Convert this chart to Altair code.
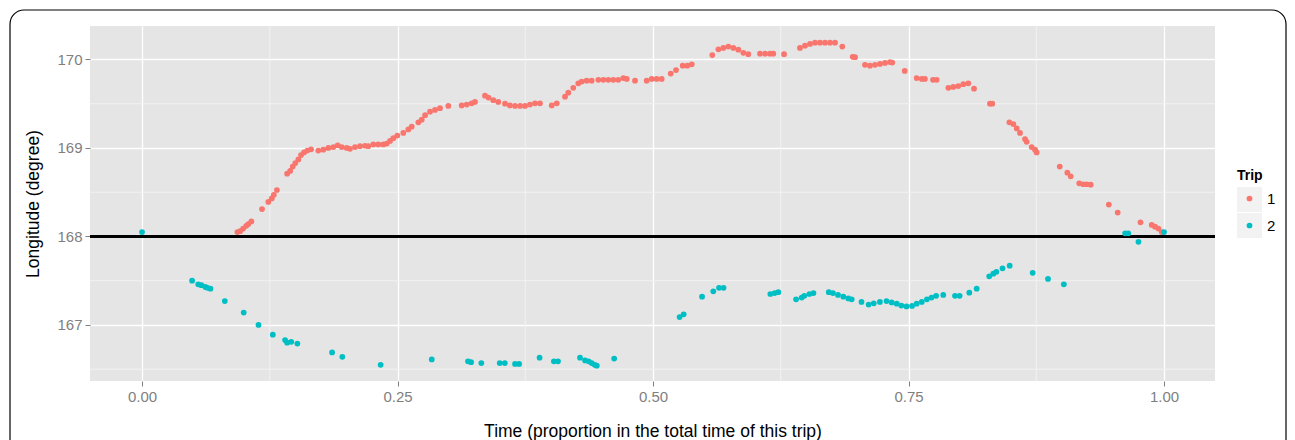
import altair as alt
import pandas as pd

# ---- data ----
trip1_x = [0.0933, 0.096, 0.099, 0.102, 0.104, 0.107, 0.1174, 0.1236, 0.127, 0.129, 0.132,
           0.142, 0.145, 0.1475, 0.150, 0.153, 0.1556, 0.1585, 0.1617, 0.1654, 0.1725, 0.1774,
           0.1823, 0.1872, 0.1915, 0.1954, 0.2003, 0.2035, 0.2084, 0.2133, 0.2182, 0.2214,
           0.2263, 0.2312, 0.2361, 0.2394, 0.2427, 0.2459, 0.2498, 0.2557, 0.2606, 0.2639,
           0.2704, 0.2737, 0.277, 0.2818, 0.2867, 0.2916, 0.2997, 0.3128, 0.3177, 0.3226,
           0.3258, 0.3356, 0.339, 0.3437, 0.3486, 0.3552, 0.360, 0.365, 0.370, 0.3748, 0.3796,
           0.3845, 0.3894, 0.4009, 0.4058, 0.4139, 0.4171, 0.422, 0.4269, 0.4302, 0.4351,
           0.440, 0.4465, 0.4514, 0.4563, 0.4612, 0.466, 0.471, 0.4743, 0.4824, 0.4938, 0.4987,
           0.5036, 0.5085, 0.5173, 0.5225, 0.529, 0.5336, 0.5379, 0.558, 0.564, 0.5688, 0.5737,
           0.5786, 0.5835, 0.5884, 0.5932, 0.6047, 0.6096, 0.6145, 0.6177, 0.6282, 0.6438,
           0.6487, 0.6536, 0.6585, 0.6634, 0.6683, 0.6732, 0.6781, 0.6852, 0.6954, 0.6977,
           0.7074, 0.7123, 0.7172, 0.7221, 0.727, 0.7319, 0.7341, 0.7463, 0.758, 0.763, 0.766,
           0.774, 0.7776, 0.789, 0.7938, 0.7987, 0.8036, 0.8085, 0.8141, 0.8297, 0.832, 0.8487,
           0.8526, 0.8559, 0.8591, 0.864, 0.8656, 0.8705, 0.8738, 0.8754, 0.898, 0.9054, 0.9087,
           0.9171, 0.921, 0.9244, 0.9283, 0.946, 0.9547, 0.977, 0.988, 0.9912, 0.9945, 0.9978]
trip1_y = [168.05, 168.06, 168.09, 168.12, 168.14, 168.17, 168.31, 168.39, 168.43, 168.47, 168.525,
           168.71, 168.74, 168.79, 168.83, 168.87, 168.92, 168.95, 168.97, 168.985, 168.97, 168.98,
           169.0, 169.01, 169.03, 169.01, 169.0, 168.99, 169.01, 169.02, 169.025, 169.02,
           169.04, 169.04, 169.04, 169.05, 169.08, 169.11, 169.14, 169.17, 169.21, 169.24,
           169.29, 169.32, 169.37, 169.41, 169.43, 169.45, 169.475, 169.48, 169.49, 169.505,
           169.52, 169.59, 169.57, 169.54, 169.52, 169.50, 169.48, 169.475, 169.475, 169.475, 169.49,
           169.505, 169.505, 169.48, 169.505, 169.58, 169.625, 169.68, 169.73, 169.75, 169.76,
           169.76, 169.77, 169.77, 169.77, 169.77, 169.77, 169.79, 169.78, 169.76, 169.76, 169.78,
           169.78, 169.78, 169.84, 169.88, 169.93, 169.93, 169.945, 170.05, 170.115, 170.13, 170.145,
           170.13, 170.11, 170.075, 170.06, 170.065, 170.065, 170.065, 170.065, 170.06, 170.13,
           170.155, 170.175, 170.19, 170.19, 170.19, 170.19, 170.19, 170.145, 170.03, 170.025,
           169.94, 169.93, 169.94, 169.95, 169.96, 169.97, 169.965, 169.87, 169.79, 169.78, 169.78,
           169.77, 169.77, 169.68, 169.69, 169.70, 169.72, 169.73, 169.67, 169.50, 169.50, 169.29,
           169.27, 169.22, 169.17, 169.10, 169.07, 169.01, 168.98, 168.95, 168.79, 168.72, 168.68,
           168.60, 168.59, 168.59, 168.585, 168.36, 168.27, 168.16, 168.13, 168.11, 168.09, 168.05]

trip2_x = [0.0, 0.049, 0.055, 0.058, 0.062, 0.064, 0.067, 0.081, 0.0995, 0.114, 0.128, 0.140,
           0.142, 0.146, 0.152, 0.186, 0.196, 0.2335, 0.2835, 0.319, 0.322, 0.332, 0.350, 0.355,
           0.365, 0.369, 0.389, 0.403, 0.407, 0.4286, 0.4335, 0.437, 0.440, 0.443, 0.445, 0.462,
           0.526, 0.530, 0.548, 0.559, 0.5646, 0.569, 0.6148, 0.619, 0.6226, 0.640, 0.6455, 0.648,
           0.653, 0.657, 0.672, 0.676, 0.681, 0.6862, 0.6911, 0.6944, 0.704, 0.711, 0.716, 0.722,
           0.7285, 0.7335, 0.7385, 0.743, 0.748, 0.7535, 0.758, 0.763, 0.768, 0.7725, 0.777, 0.784,
           0.7955, 0.800, 0.8095, 0.8167, 0.829, 0.833, 0.836, 0.842, 0.849, 0.8715, 0.8865, 0.902,
           0.962, 0.965, 0.975, 1.0]
trip2_y = [168.05, 167.50, 167.46, 167.45, 167.43, 167.42, 167.41, 167.27, 167.14, 167.0, 166.89, 166.83,
           166.80, 166.81, 166.79, 166.69, 166.64, 166.55, 166.61, 166.59, 166.58, 166.57, 166.57, 166.57,
           166.56, 166.56, 166.63, 166.59, 166.59, 166.63, 166.60, 166.59, 166.57, 166.55, 166.54, 166.62,
           167.09, 167.12, 167.32, 167.38, 167.42, 167.42, 167.35, 167.36, 167.37, 167.29, 167.31, 167.33,
           167.35, 167.36, 167.37, 167.36, 167.34, 167.32, 167.30, 167.29, 167.26, 167.23, 167.245, 167.26,
           167.27, 167.255, 167.24, 167.22, 167.21, 167.215, 167.24, 167.26, 167.29, 167.31, 167.33, 167.34,
           167.33, 167.33, 167.365, 167.41, 167.55, 167.58, 167.60, 167.64, 167.67, 167.59, 167.52, 167.46,
           168.035, 168.035, 167.94, 168.05]

trip_labels = ["1", "2"]
trip_colors = ["#F8766D", "#00BFC4"]
x_ticks = [0.0, 0.25, 0.5, 0.75, 1.0]
y_ticks = [167, 168, 169, 170]
x_minor = [0.125, 0.375, 0.625, 0.875]
y_minor = [166.5, 167.5, 168.5, 169.5]
ref_line = [168]
x_domain = [-0.0509, 1.0499]
y_domain = [166.367, 170.378]

FONT = "Liberation Sans"

points = pd.DataFrame({
    "time": trip1_x + trip2_x,
    "lon": trip1_y + trip2_y,
    "trip": [trip_labels[0]] * len(trip1_x) + [trip_labels[1]] * len(trip2_x),
})

xs = alt.Scale(domain=x_domain, nice=False, zero=False)
ys = alt.Scale(domain=y_domain, nice=False, zero=False)

x_axis = alt.Axis(values=x_ticks, format=".2f", title="Time (proportion in the total time of this trip)")
y_axis = alt.Axis(values=y_ticks, format="d", title="Longitude (degree)")

border = alt.Chart(alt.Data(values=[{}])).mark_rect(
    fillOpacity=0, stroke="black", strokeWidth=1.2, cornerRadius=14
).encode(x=alt.value(-80), x2=alt.value(1196), y=alt.value(-16), y2=alt.value(470))

minor_x = alt.Chart(pd.DataFrame({"v": x_minor})).mark_rule(color="#F2F2F2", strokeWidth=1).encode(
    x=alt.X("v:Q", scale=xs, axis=x_axis)
)
minor_y = alt.Chart(pd.DataFrame({"v": y_minor})).mark_rule(color="#F2F2F2", strokeWidth=1).encode(
    y=alt.Y("v:Q", scale=ys, axis=y_axis)
)
hline = alt.Chart(pd.DataFrame({"v": ref_line})).mark_rule(color="black", strokeWidth=3).encode(
    y=alt.Y("v:Q", scale=ys, axis=y_axis)
)

pts = alt.Chart(points).mark_circle(size=33, opacity=1).encode(
    x=alt.X("time:Q", scale=xs, axis=x_axis),
    y=alt.Y("lon:Q", scale=ys, axis=y_axis),
    color=alt.Color(
        "trip:N",
        scale=alt.Scale(domain=trip_labels, range=trip_colors),
        legend=alt.Legend(
            title="Trip", orient="none", legendX=1147, legendY=143, padding=0,
            titleFontSize=14, titleFontWeight="bold", titleColor="black", titleFont=FONT,
            titlePadding=8, labelFontSize=15, labelFont=FONT, labelColor="black",
            symbolType="circle", symbolSize=33, symbolStrokeWidth=0, symbolOffset=5,
            labelOffset=10, rowPadding=11,
        ),
    ),
)

key1 = alt.Chart(alt.Data(values=[{}])).mark_rect(color="#F2F2F2").encode(
    x=alt.value(1147), x2=alt.value(1172), y=alt.value(161), y2=alt.value(186))
key2 = alt.Chart(alt.Data(values=[{}])).mark_rect(color="#F2F2F2").encode(
    x=alt.value(1147), x2=alt.value(1172), y=alt.value(187), y2=alt.value(212))

chart = alt.layer(border, minor_x, minor_y, hline, key1, key2, pts).properties(
    width=1125, height=355,
    autosize=alt.AutoSizeParams(type="none"),
    padding={"left": 82, "top": 18, "right": 72, "bottom": 59},
).configure_view(
    fill="#E5E5E5", strokeWidth=0
).configure_axis(
    domain=False, grid=True, gridColor="white", gridWidth=1.3,
    tickColor="#7F7F7F", tickSize=5, labelColor="#7F7F7F", labelFontSize=15, labelFont=FONT,
    titleFont=FONT, titleFontSize=17.5, titleFontWeight="normal", titleColor="black",
).configure_axisX(
    labelPadding=3, titlePadding=18
).configure_axisY(
    labelPadding=3, titlePadding=14
)

chart.save("out.html", embed_options={"renderer": "svg", "actions": False})
